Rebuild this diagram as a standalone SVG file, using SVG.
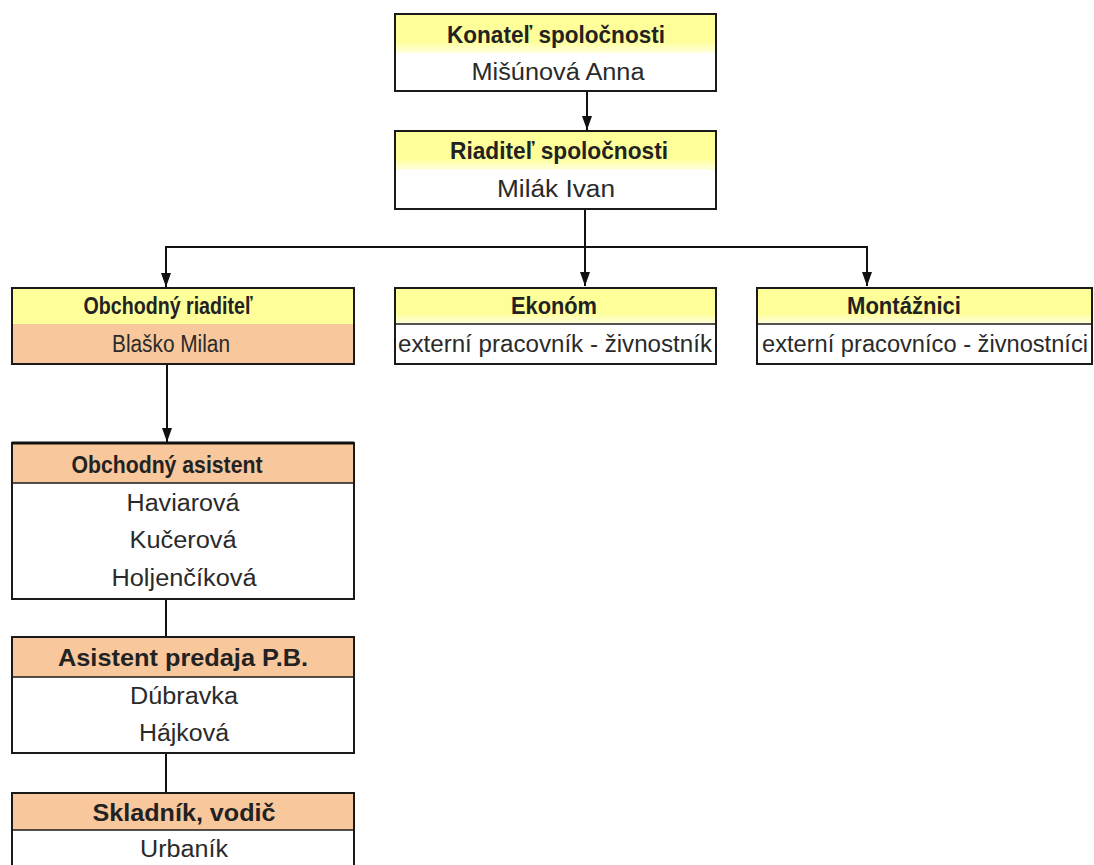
<svg xmlns="http://www.w3.org/2000/svg" width="1094" height="865" viewBox="0 0 1094 865">
<style>
.box{stroke:#1a1a1a;stroke-width:2;fill:none}
.thick{stroke:#111;stroke-width:3;fill:none}
.div{stroke:#1a1a1a;stroke-width:1.5}
.yel{fill:url(#yg)}
.yel2{fill:#FFFF99}
.org{fill:#F9C79C}
.wht{fill:#ffffff}
.h{font-family:"Liberation Sans",Arial,sans-serif;font-weight:bold;font-size:24px;fill:#222;text-anchor:middle}
.n{font-family:"Liberation Sans",Arial,sans-serif;font-size:23px;fill:#2a2a2a;text-anchor:middle}
.c{stroke:#111;stroke-width:2;fill:none}
</style>
<defs>
<linearGradient id="yg" x1="0" y1="0" x2="0" y2="1">
<stop offset="0" stop-color="#FFFF99"/>
<stop offset="0.7" stop-color="#FFFF99"/>
<stop offset="1" stop-color="#FFFFE0"/>
</linearGradient>
<marker id="arr" markerWidth="14" markerHeight="10" refX="14" refY="5" orient="auto" markerUnits="userSpaceOnUse" viewBox="0 0 14 10">
<path d="M0,0 L14,5 L0,10 Z" fill="#111"/>
</marker>
</defs>
<rect width="1094" height="865" fill="#ffffff"/>
<g id="connectors">
<line class="c" x1="587" y1="91" x2="587" y2="130" marker-end="url(#arr)"/>
<line class="c" x1="585" y1="209" x2="585" y2="286" marker-end="url(#arr)"/>
<polyline class="c" points="166,286 166,247 867,247 867,286" marker-end="url(#arr)"/>
<line class="c" x1="166" y1="256" x2="166" y2="287" marker-end="url(#arr)"/>
<line class="c" x1="167" y1="364" x2="167" y2="442" marker-end="url(#arr)"/>
<line class="c" x1="166" y1="599" x2="166" y2="637"/>
<line class="c" x1="166" y1="753" x2="166" y2="793"/>
</g>
<g id="konatel">
<rect class="yel" x="395" y="14" width="321" height="39"/>
<rect class="wht" x="395" y="53" width="321" height="38"/>
<rect class="box" x="395" y="14" width="321" height="77"/>
<text class="h" x="556" y="34" dominant-baseline="central" textLength="218" lengthAdjust="spacingAndGlyphs">Konateľ spoločnosti</text>
<text class="n" x="558" y="72" dominant-baseline="central" textLength="173" lengthAdjust="spacingAndGlyphs">Mišúnová Anna</text>
</g>
<g id="riaditel">
<rect class="yel" x="395" y="131" width="321" height="39"/>
<rect class="wht" x="395" y="170" width="321" height="39"/>
<rect class="box" x="395" y="131" width="321" height="78"/>
<text class="h" x="559" y="150" dominant-baseline="central" textLength="218" lengthAdjust="spacingAndGlyphs">Riaditeľ spoločnosti</text>
<text class="n" x="556" y="189" dominant-baseline="central" textLength="118" lengthAdjust="spacingAndGlyphs">Milák Ivan</text>
</g>
<g id="obchodny-riaditel">
<rect class="yel2" x="12" y="288" width="342" height="36"/>
<rect class="org" x="12" y="324" width="342" height="40"/>
<rect class="box" x="12" y="288" width="342" height="76"/>
<text class="h" x="168" y="305" dominant-baseline="central" textLength="169" lengthAdjust="spacingAndGlyphs">Obchodný riaditeľ</text>
<text class="n" x="171" y="344" dominant-baseline="central" textLength="118" lengthAdjust="spacingAndGlyphs">Blaško Milan</text>
</g>
<g id="ekonom">
<rect class="yel" x="395" y="288" width="321" height="36"/>
<rect class="wht" x="395" y="324" width="321" height="40"/>
<rect class="box" x="395" y="288" width="321" height="76"/>
<line class="div" x1="395" y1="324" x2="716" y2="324"/>
<text class="h" x="554" y="305" dominant-baseline="central" textLength="86" lengthAdjust="spacingAndGlyphs">Ekonóm</text>
<text class="n" x="555" y="344" dominant-baseline="central" textLength="314" lengthAdjust="spacingAndGlyphs">externí pracovník - živnostník</text>
</g>
<g id="montaznici">
<rect class="yel" x="757" y="288" width="335" height="36"/>
<rect class="wht" x="757" y="324" width="335" height="40"/>
<rect class="box" x="757" y="288" width="335" height="76"/>
<line class="div" x1="757" y1="324" x2="1092" y2="324"/>
<text class="h" x="904" y="305" dominant-baseline="central" textLength="114" lengthAdjust="spacingAndGlyphs">Montážnici</text>
<text class="n" x="925" y="344" dominant-baseline="central" textLength="326" lengthAdjust="spacingAndGlyphs">externí pracovníco - živnostníci</text>
</g>
<g id="obchodny-asistent">
<rect class="org" x="12" y="443" width="342" height="40"/>
<rect class="wht" x="12" y="483" width="342" height="116"/>
<rect class="box" x="12" y="443" width="342" height="156"/>
<line class="thick" x1="12" y1="443" x2="354" y2="443"/>
<line class="div" x1="12" y1="483" x2="354" y2="483"/>
<text class="h" x="167" y="464" dominant-baseline="central" textLength="191" lengthAdjust="spacingAndGlyphs">Obchodný asistent</text>
<text class="n" x="183" y="503" dominant-baseline="central" textLength="113" lengthAdjust="spacingAndGlyphs">Haviarová</text>
<text class="n" x="183" y="540" dominant-baseline="central" textLength="107" lengthAdjust="spacingAndGlyphs">Kučerová</text>
<text class="n" x="184" y="578" dominant-baseline="central" textLength="145" lengthAdjust="spacingAndGlyphs">Holjenčíková</text>
</g>
<g id="asistent-predaja">
<rect class="org" x="12" y="637" width="342" height="40"/>
<rect class="wht" x="12" y="677" width="342" height="76"/>
<rect class="box" x="12" y="637" width="342" height="116"/>
<line class="div" x1="12" y1="677" x2="354" y2="677"/>
<text class="h" x="183" y="657" dominant-baseline="central" textLength="250" lengthAdjust="spacingAndGlyphs">Asistent predaja P.B.</text>
<text class="n" x="184" y="696" dominant-baseline="central" textLength="108" lengthAdjust="spacingAndGlyphs">Dúbravka</text>
<text class="n" x="184" y="733" dominant-baseline="central" textLength="90" lengthAdjust="spacingAndGlyphs">Hájková</text>
</g>
<g id="skladnik">
<rect class="org" x="12" y="793" width="342" height="37"/>
<rect class="wht" x="12" y="830" width="342" height="40"/>
<rect class="box" x="12" y="793" width="342" height="80"/>
<line class="div" x1="12" y1="830" x2="354" y2="830"/>
<text class="h" x="184" y="812" dominant-baseline="central" textLength="183" lengthAdjust="spacingAndGlyphs">Skladník, vodič</text>
<text class="n" x="184" y="849" dominant-baseline="central" textLength="88" lengthAdjust="spacingAndGlyphs">Urbaník</text>
</g>
</svg>
